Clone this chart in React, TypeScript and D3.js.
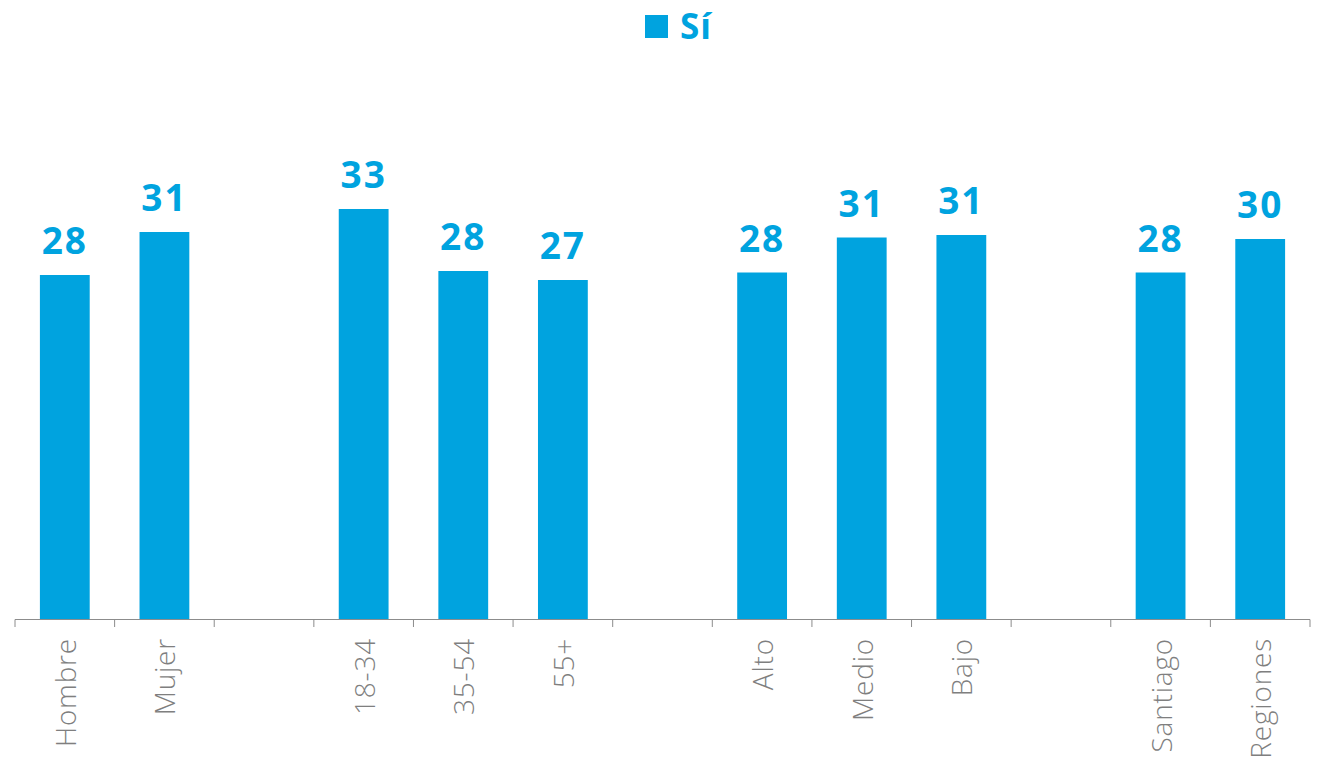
import React from "react";
import * as d3 from "d3";

const categories = ["Hombre", "Mujer", "_gap1", "18-34", "35-54", "55+", "_gap2", "Alto", "Medio", "Bajo", "_gap3", "Santiago", "Regiones"];
const seriesName = "Sí";
const values: (number | null)[] = [27.56, 31.0, null, 32.84, 27.88, 27.16, null, 27.76, 30.56, 30.76, null, 27.76, 30.44];

const W = 1325;
const H = 761;
const BLUE = "#00a3df";
const GREY = "#7f7f7f";

export default function App() {
  const x = d3.scaleBand<string>().domain(categories).range([15, 1310]).paddingInner(0.5).paddingOuter(0.25);
  const y = d3.scaleLinear().domain([0, 35]).range([619.5, 619.5 - 35 * 12.5]);
  const step = x.step();
  const bw = x.bandwidth();
  const off = (step - bw) / 2;
  const boundaries = categories.map((c) => (x(c) as number) - off);
  boundaries.push((x(categories[categories.length - 1]) as number) + bw + off);
  const baseY = y(0);
  const font = "'Open Sans', 'Noto Sans', sans-serif";

  return (
    <svg width={W} height={H} style={{ position: "absolute", left: 0, top: 0, background: "#fff" }}>
      {/* legend */}
      <rect x={645} y={15} width={23} height={23} fill={BLUE} />
      <text x={680} y={38.5} fontFamily={font} fontWeight={700} fontSize={35} letterSpacing={1} fill={BLUE}>
        {seriesName}
      </text>
      {/* bars */}
      {categories.map((c, i) => {
        const v = values[i];
        if (v == null) return null;
        const bx = x(c) as number;
        return (
          <g key={c}>
            <rect x={bx} y={y(v)} width={bw} height={baseY - y(v)} fill={BLUE} />
            <text
              x={bx + bw / 2}
              y={y(v) - 21}
              textAnchor="middle"
              fontFamily={font}
              fontWeight={700}
              fontSize={37}
              letterSpacing={2}
              fill={BLUE}
            >
              {d3.format(".0f")(v)}
            </text>
          </g>
        );
      })}
      {/* axis */}
      <line x1={boundaries[0]} x2={boundaries[boundaries.length - 1]} y1={baseY} y2={baseY} stroke="#8c8c8c" strokeWidth={1} />
      {boundaries.map((b, i) => (
        <line key={i} x1={b} x2={b} y1={baseY} y2={baseY + 7.5} stroke="#8c8c8c" strokeWidth={1} />
      ))}
      {categories.map((c) => {
        if (c.startsWith("_gap")) return null;
        const cx = (x(c) as number) + bw / 2;
        return (
          <text
            key={"l" + c}
            transform={`translate(${cx},${638}) rotate(-90)`}
            textAnchor="end"
            dominantBaseline="central"
            fontFamily={font}
            fontWeight={300}
            fontSize={28}
            letterSpacing={0.8}
            fill={GREY}
          >
            {c}
          </text>
        );
      })}
    </svg>
  );
}
